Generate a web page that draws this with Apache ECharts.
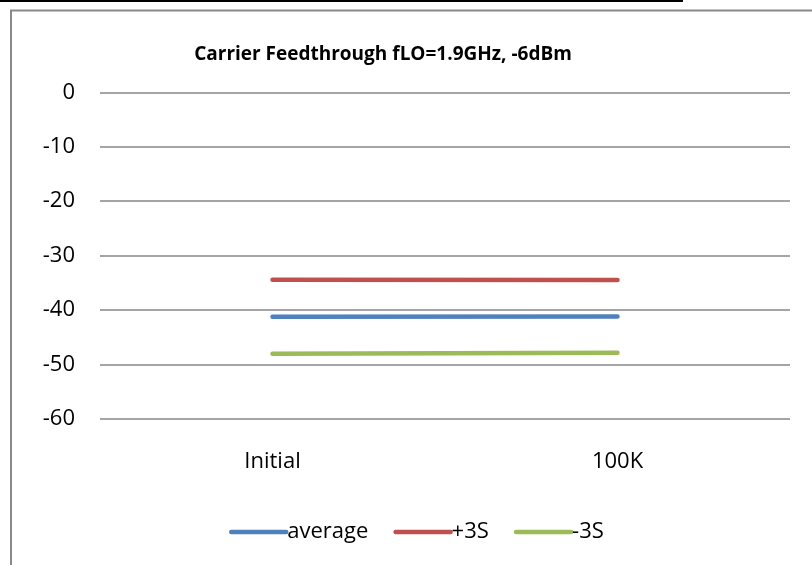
<!DOCTYPE html>
<html>
<head>
<meta charset="utf-8">
<script src="https://cdn.jsdelivr.net/npm/echarts@6/dist/echarts.min.js"></script>
<style>
  html, body { margin: 0; padding: 0; background: #ffffff; }
  #chart { width: 812px; height: 565px; }
</style>
</head>
<body>
<div id="chart"></div>
<script>
// Category labels and measured levels (dBm)
const categories = ['Initial', '100K'];
const averageValues = [-41.25, -41.2];
const plus3SValues = [-34.45, -34.5];
const minus3SValues = [-48.05, -47.87];
const yTicks = { min: -60, max: 0, step: 10 };

const labelFont = '"Open Sans", "Noto Sans", sans-serif';

function lineSeries(name, data, color) {
  return {
    name: name,
    type: 'line',
    data: data,
    symbol: 'none',
    smooth: false,
    color: color,
    lineStyle: { color: color, width: 4.5, cap: 'round' },
    emphasis: { disabled: true }
  };
}

const chart = echarts.init(document.getElementById('chart'), null, { renderer: 'canvas' });
chart.setOption({
  animation: false,
  backgroundColor: '#ffffff',
  title: {
    text: 'Carrier Feedthrough fLO=1.9GHz, -6dBm',
    left: 378,
    top: 40,
    textAlign: 'center',
    textStyle: { fontFamily: labelFont, fontWeight: 'bold', fontSize: 19, color: '#000000' }
  },
  graphic: [
    { type: 'rect', shape: { x: 0, y: 0, width: 683, height: 2 }, style: { fill: '#000000' }, silent: true },
    { type: 'rect', shape: { x: 11, y: 10.5, width: 900, height: 700 }, style: { fill: 'none', stroke: '#898989', lineWidth: 2 }, silent: true }
  ],
  legend: {
    left: 224,
    top: 516,
    itemWidth: 55,
    itemHeight: 14,
    itemGap: 25,
    itemStyle: { opacity: 0 },
    lineStyle: { width: 4.5, cap: 'round' },
    textStyle: { fontFamily: labelFont, fontSize: 22, color: '#000000', padding: [0, 0, 0, -4] },
    data: ['average', '+3S', '-3S']
  },
  grid: { left: 100, right: 22, top: 92.3, bottom: 146.3, containLabel: false },
  xAxis: {
    type: 'category',
    data: categories,
    boundaryGap: true,
    axisLine: { show: false },
    axisTick: { show: false },
    axisLabel: { fontFamily: labelFont, fontSize: 22, color: '#000000', margin: 32 }
  },
  yAxis: {
    type: 'value',
    min: yTicks.min,
    max: yTicks.max,
    interval: yTicks.step,
    axisLine: { show: false },
    axisTick: { show: false },
    axisLabel: { fontFamily: labelFont, fontSize: 22, color: '#000000', margin: 25 },
    splitLine: { lineStyle: { color: '#878787', width: 1.6 } }
  },
  series: [
    lineSeries('average', averageValues, '#4F81BD'),
    lineSeries('+3S', plus3SValues, '#C0504D'),
    lineSeries('-3S', minus3SValues, '#9BBB59')
  ]
});
</script>
</body>
</html>
